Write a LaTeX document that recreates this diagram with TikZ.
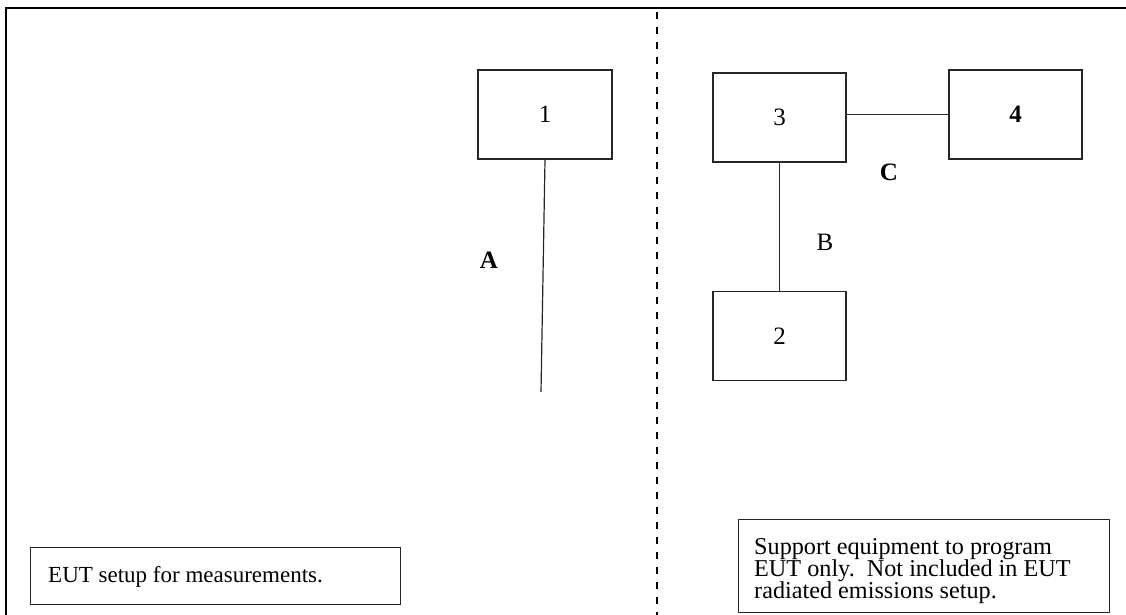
\documentclass[tikz,border=0pt]{standalone}
\usepackage{fontspec}
\setmainfont{Liberation Serif}
\begin{document}
\begin{tikzpicture}[x=1pt,y=-1pt,
  box/.style={draw=black!85, line width=1.3pt, minimum width=133pt, minimum height=89pt, inner sep=0pt, font=\fontsize{25}{22}\selectfont},
  lbl/.style={font=\fontsize{25}{22}\selectfont, inner sep=0pt},
  txt/.style={font=\fontsize{24.2}{22}\selectfont, inner sep=0pt, anchor=base west},
  wire/.style={draw=black!85, line width=1.2pt},
  frameline/.style={line width=1.8pt},
  divider/.style={line width=2.4pt, dash pattern=on 7pt off 8pt},
  notebox/.style={draw=black!85, line width=1.3pt, inner sep=0pt, anchor=north west}]
\useasboundingbox (0,0) rectangle (1126,615);
% frame
\draw[frameline] (6,615) -- (6,8) -- (1126,8);
% divider
\coordinate (dtop) at (657,12);
\coordinate (dbot) at (657,615);
\draw[divider] (dtop) -- (dbot);
% boxes
\node[box, minimum width=134pt] (n1) at (545,114.5) {1};
\node[box] (n3) at (779.5,117.5) {3};
\node[box] (n4) at (1015.5,114.5) {\bfseries 4};
\node[box] (n2) at (779.5,336) {2};
% connectors
\coordinate (aend) at (541,392);
\draw[wire] (n1.south) -- (aend);
\draw[wire] (n3.east |- n4.west) -- (n4.west);
\draw[wire] (n3.south) -- (n2.north);
% labels
\node[lbl] (la) at (489,260) {\bfseries A};
\node[lbl] (lb) at (825,242) {B};
\node[lbl] (lc) at (889,172) {\bfseries C};
% note boxes
\node[notebox, minimum width=370pt, minimum height=57pt] (eutbox) at (30,547) {};
\node[txt, font=\fontsize{23}{22}\selectfont] (eut) at (48,582) {EUT setup for measurements.};
\node[notebox, minimum width=371pt, minimum height=93pt] (supbox) at (738,519) {};
\node[txt] (s1) at (754,554) {Support equipment to program};
\node[txt] (s2) at (754,576) {EUT only.\ \ Not included in EUT};
\node[txt] (s3) at (754,598) {radiated emissions setup.};
\end{tikzpicture}
\end{document}
